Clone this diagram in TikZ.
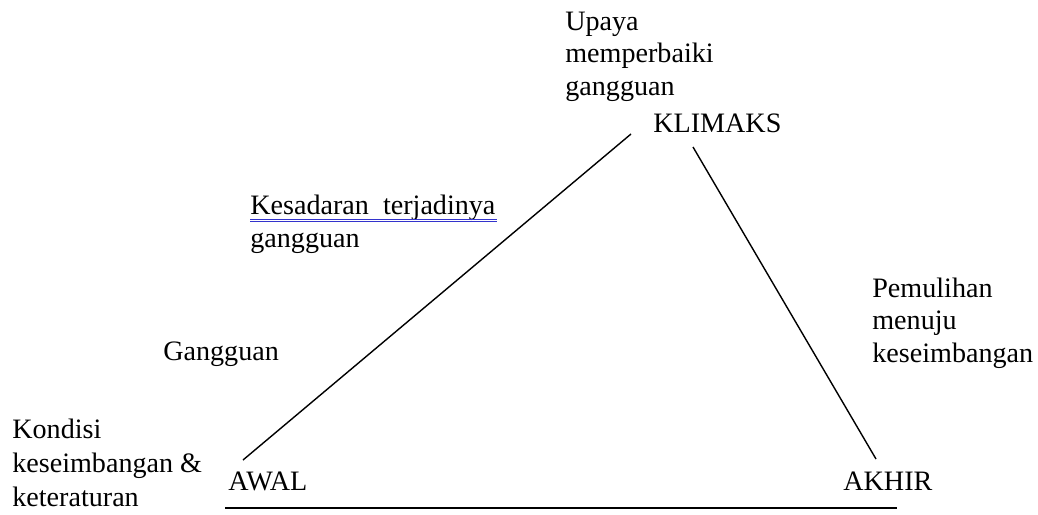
\documentclass[tikz,border=0pt]{standalone}
\usepackage{fontspec}
\setmainfont{Liberation Serif}
\newfontfamily\timesfont{LiberationSerif-Regular.ttf}
\usepackage{tikz}
\usetikzlibrary{positioning}

\begin{document}
\begin{tikzpicture}[x=0.02cm, y=-0.02cm,
    font=\timesfont\fontsize{16}{18.4}\selectfont,
    lbl/.style={anchor=base west, inner sep=0pt, align=left},
    side/.style={line width=0.8pt, black}]
  \useasboundingbox (0,0) rectangle (1038,514);

  % Labels (anchored at the baseline of their last line)
  \node (upaya) [lbl] at (565,95) {Upaya\\memperbaiki\\gangguan};
  \node (klimaks) [lbl] at (653,132) {KLIMAKS};
  \node (kesadaran) [lbl] at (250,247) {Kesadaran\ \ terjadinya\\gangguan};
  \node (pemulihan) [lbl] at (872,362) {Pemulihan\\menuju\\keseimbangan};
  \node (gangguan) [lbl] at (163,360) {Gangguan};
  \node (kondisi) [lbl, font=\timesfont\fontsize{16}{19.3}\selectfont] at (12,506) {Kondisi\\keseimbangan \&\\keteraturan};
  \node (awal) [lbl] at (228,490) {AWAL};
  \node (akhir) [lbl] at (843,490) {AKHIR};

  % Double underline under the first line
  \draw[blue!60!gray, line width=0.4pt] (250,219.5) -- (497,219.5);
  \draw[blue!60!gray, line width=0.4pt] (250,221.8) -- (497,221.8);

  % Triangle sides
  \coordinate (awalTop) at (243,460);
  \coordinate (klimaksL) at (631,134);
  \coordinate (klimaksR) at (693,147);
  \coordinate (akhirTop) at (876,459);
  \coordinate (baseL) at (225,508);
  \coordinate (baseR) at (897,508);
  \draw[side] (awalTop) -- (klimaksL);
  \draw[side] (klimaksR) -- (akhirTop);
  \draw[side] (baseL) -- (baseR);
\end{tikzpicture}
\end{document}
